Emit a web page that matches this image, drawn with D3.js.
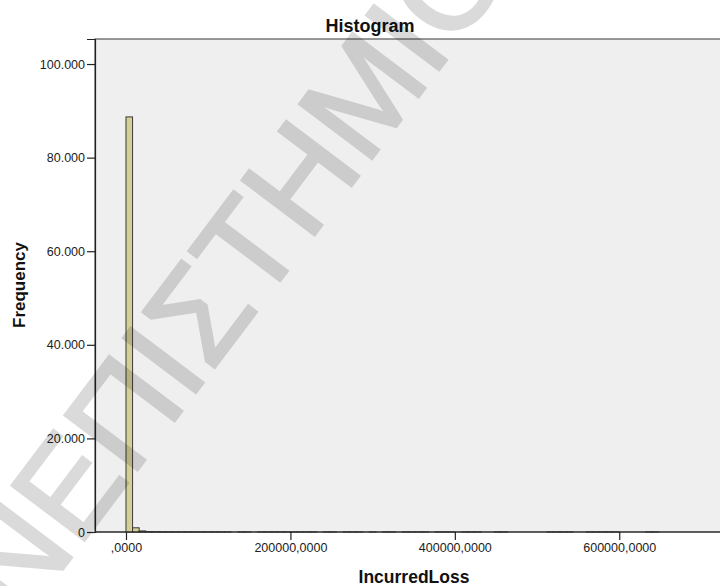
<!DOCTYPE html>
<html>
<head>
<meta charset="utf-8">
<script src="https://cdn.jsdelivr.net/npm/d3@7"></script>
<style>
  body { margin: 0; background: #fff; }
  svg { display: block; font-family: "Liberation Sans", Arial, sans-serif; }
</style>
</head>
<body>
<script>
// histogram of IncurredLoss, bins of 8000 starting at 0
const binWidth = 8000;
const counts = [
  88700, 900, 230, 95, 60, 42, 30, 24, 18, 15,
  12, 10, 9, 8, 7, 6, 0, 5, 5, 0,
  4, 4, 3, 3, 3, 2, 3, 2, 2, 0,
  2, 2, 0, 1, 2, 1, 0, 1, 0, 1,
  1, 0, 1, 1, 1, 1, 0, 1, 1, 1,
  0, 1, 1, 1, 0, 0, 1, 1, 0, 0,
  0, 0, 0, 0, 1, 1, 1, 1, 0, 0,
  1, 1, 1, 1, 1, 0, 0, 0, 0, 1,
  1
];
const yTicks = [0, 20000, 40000, 60000, 80000, 100000];
const xTicks = [0, 200000, 400000, 600000];
const title = 'Histogram';
const xLabel = 'IncurredLoss';
const yLabel = 'Frequency';
const watermark = 'ΠΑΝΕΠΙΣΤΗΜΙΟ';

const width = 720, height = 586;
const margin = {top: 39, left: 95, bottom: 54};

const bins = counts.map(function(c, i) {
  return { x0: i * binWidth, x1: (i + 1) * binWidth, count: c };
}).filter(function(d) { return d.count > 0; });

const xScale = d3.scaleLinear()
  .domain([-37700, 770000])
  .range([margin.left, 759]);

const yScale = d3.scaleLinear()
  .domain([0, 105350])
  .range([height - margin.bottom, margin.top]);

// SPSS style number formats: 100.000 and ,0000
const yLocale = d3.formatLocale({decimal: ',', thousands: '.', grouping: [3], currency: ['', '']});
const yFmt = yLocale.format(',');
const xLocale = d3.formatLocale({decimal: ',', thousands: '', grouping: [3], currency: ['', '']});
const xFmt = function(d) { return xLocale.format('.4f')(d).replace(/^0,/, ','); };

const svg = d3.select('body').append('svg')
  .attr('width', width)
  .attr('height', height);

// plot background + frame
svg.append('rect')
  .attr('x', margin.left)
  .attr('y', margin.top)
  .attr('width', 800)
  .attr('height', yScale(0) - margin.top)
  .attr('fill', '#efefef')
  .attr('stroke', '#555')
  .attr('stroke-width', 1.2);

// bars
svg.selectAll('.bar')
  .data(bins)
  .enter()
    .append('rect')
    .attr('class', 'bar')
    .attr('x', function(d) { return xScale(d.x0); })
    .attr('width', function(d) { return xScale(d.x1) - xScale(d.x0); })
    .attr('y', function(d) { return yScale(d.count); })
    .attr('height', function(d) { return yScale(0) - yScale(d.count); })
    .attr('fill', '#d4cf96')
    .attr('stroke', '#3a3a3a')
    .attr('stroke-width', 1);

// axes
const yAxis = svg.append('g')
  .attr('transform', 'translate(' + margin.left + ',0)')
  .call(d3.axisLeft(yScale).tickValues(yTicks).tickSize(8).tickPadding(2).tickFormat(yFmt));

const xAxis = svg.append('g')
  .attr('transform', 'translate(0,' + yScale(0) + ')')
  .call(d3.axisBottom(xScale).tickValues(xTicks).tickSize(8).tickPadding(3).tickFormat(xFmt));

[yAxis, xAxis].forEach(function(ax) {
  ax.select('.domain').attr('stroke', '#222').attr('stroke-width', 1.2);
  ax.selectAll('.tick line').attr('stroke', '#222').attr('stroke-width', 1.2);
  ax.selectAll('.tick text')
    .attr('fill', '#222')
    .style('font-size', '12.5px')
    .style('font-family', '"Liberation Sans", Arial, sans-serif');
});
xAxis.select('.domain').attr('d', 'M' + margin.left + ',0H720');

// titles
svg.append('text')
  .attr('x', 370)
  .attr('y', 32)
  .attr('text-anchor', 'middle')
  .style('font-size', '18px')
  .style('font-weight', 'bold')
  .attr('fill', '#111')
  .text(title);

svg.append('text')
  .attr('transform', 'translate(25,285) rotate(-90)')
  .attr('text-anchor', 'middle')
  .style('font-size', '17px')
  .style('font-weight', 'bold')
  .attr('fill', '#111')
  .text(yLabel);

svg.append('text')
  .attr('x', 414)
  .attr('y', 583)
  .attr('text-anchor', 'middle')
  .style('font-size', '17.5px')
  .style('font-weight', 'bold')
  .attr('fill', '#111')
  .text(xLabel);

// watermark across the chart (runs off the edges like the original)
svg.append('g')
  .attr('opacity', 0.14)
  .append('text')
    .attr('transform', 'translate(176,342) rotate(-53)')
    .attr('text-anchor', 'middle')
    .attr('dy', '0.35em')
    .style('font-size', '132px')
    .attr('fill', '#000')
    .attr('stroke', '#000')
    .attr('stroke-width', 3)
    .text(watermark);
</script>
</body>
</html>
